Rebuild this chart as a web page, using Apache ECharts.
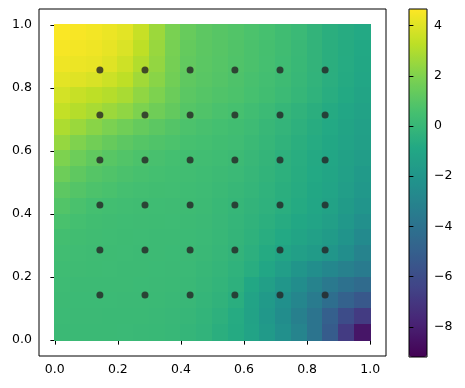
<!DOCTYPE html>
<html>
<head>
<meta charset="utf-8">
<script src="https://cdn.jsdelivr.net/npm/echarts@6/dist/echarts.min.js"></script>
<style>
  html, body { margin: 0; padding: 0; background: #fff; }
  #chart { width: 465px; height: 388px; }
</style>
</head>
<body>
<div id="chart"></div>
<script>
// cell centres of the interpolated field (x left->right, y top->bottom)
const xCenters = [0.025, 0.075, 0.125, 0.175, 0.225, 0.275, 0.325, 0.375, 0.425, 0.475,
                  0.525, 0.575, 0.625, 0.675, 0.725, 0.775, 0.825, 0.875, 0.925, 0.975];
const yCenters = [0.975, 0.925, 0.875, 0.825, 0.775, 0.725, 0.675, 0.625, 0.575, 0.525,
                  0.475, 0.425, 0.375, 0.325, 0.275, 0.225, 0.175, 0.125, 0.075, 0.025];

// field values, one row per yCenters entry
const fieldRows = [
  [4.6, 4.55, 4.45, 4.3, 4.1, 3.5, 2.6, 1.85, 1.4, 1.15, 1.0, 0.85, 0.7, 0.55, 0.35, 0.12, -0.2, -0.5, -0.7, -0.85],
  [4.5, 4.45, 4.35, 4.18, 3.9, 3.3, 2.5, 1.8, 1.33, 1.12, 0.98, 0.84, 0.69, 0.54, 0.33, 0.1, -0.2, -0.5, -0.71, -0.88],
  [4.35, 4.3, 4.22, 4.0, 3.65, 3.05, 2.4, 1.75, 1.27, 1.08, 0.96, 0.82, 0.67, 0.52, 0.31, 0.07, -0.21, -0.5, -0.72, -0.92],
  [4.1, 4.0, 3.85, 3.6, 3.3, 2.7, 2.2, 1.65, 1.2, 1.03, 0.9, 0.77, 0.6, 0.46, 0.26, 0.02, -0.24, -0.53, -0.77, -1.0],
  [3.75, 3.5, 3.3, 3.1, 2.85, 2.35, 1.95, 1.5, 1.1, 0.93, 0.8, 0.72, 0.55, 0.4, 0.18, -0.05, -0.3, -0.58, -0.83, -1.1],
  [3.4, 3.1, 2.85, 2.6, 2.35, 1.95, 1.6, 1.3, 0.95, 0.8, 0.65, 0.55, 0.38, 0.18, -0.05, -0.28, -0.5, -0.75, -1.0, -1.25],
  [2.95, 2.55, 2.2, 1.9, 1.62, 1.35, 1.12, 0.9, 0.7, 0.6, 0.5, 0.4, 0.25, 0.03, -0.17, -0.4, -0.62, -0.85, -1.1, -1.35],
  [2.45, 2.0, 1.65, 1.38, 1.15, 0.95, 0.82, 0.7, 0.56, 0.49, 0.4, 0.32, 0.14, -0.07, -0.27, -0.5, -0.72, -0.92, -1.2, -1.45],
  [1.95, 1.55, 1.25, 1.02, 0.85, 0.72, 0.6, 0.5, 0.42, 0.36, 0.3, 0.2, 0.04, -0.15, -0.38, -0.58, -0.8, -1.0, -1.3, -1.55],
  [1.55, 1.2, 0.95, 0.8, 0.68, 0.58, 0.5, 0.42, 0.36, 0.3, 0.22, 0.12, -0.04, -0.22, -0.43, -0.63, -0.85, -1.05, -1.38, -1.7],
  [1.15, 0.92, 0.74, 0.62, 0.52, 0.45, 0.4, 0.36, 0.31, 0.25, 0.14, 0.03, -0.12, -0.3, -0.5, -0.7, -0.92, -1.15, -1.5, -1.85],
  [0.85, 0.65, 0.5, 0.42, 0.37, 0.33, 0.31, 0.29, 0.27, 0.2, 0.07, -0.06, -0.2, -0.37, -0.55, -0.78, -1.0, -1.25, -1.65, -2.05],
  [0.62, 0.5, 0.4, 0.34, 0.31, 0.29, 0.27, 0.25, 0.23, 0.16, 0.04, -0.1, -0.27, -0.47, -0.68, -0.92, -1.15, -1.4, -1.85, -2.35],
  [0.47, 0.4, 0.33, 0.3, 0.27, 0.25, 0.23, 0.21, 0.19, 0.12, 0.0, -0.15, -0.35, -0.6, -0.85, -1.1, -1.35, -1.65, -2.1, -2.65],
  [0.36, 0.32, 0.28, 0.26, 0.24, 0.22, 0.2, 0.18, 0.16, 0.08, -0.04, -0.2, -0.45, -0.77, -1.1, -1.4, -1.65, -1.95, -2.45, -3.05],
  [0.3, 0.28, 0.26, 0.24, 0.22, 0.21, 0.19, 0.16, 0.12, 0.02, -0.1, -0.3, -0.6, -1.02, -1.5, -2.0, -2.45, -2.8, -3.15, -3.5],
  [0.24, 0.23, 0.22, 0.21, 0.2, 0.19, 0.17, 0.13, 0.08, -0.03, -0.18, -0.4, -0.92, -1.42, -1.95, -2.5, -3.05, -3.6, -4.05, -4.4],
  [0.2, 0.19, 0.18, 0.18, 0.17, 0.16, 0.14, 0.1, 0.04, -0.09, -0.28, -0.55, -1.17, -1.72, -2.3, -2.9, -3.5, -4.2, -4.9, -5.4],
  [0.18, 0.17, 0.16, 0.15, 0.14, 0.13, 0.1, 0.05, -0.03, -0.18, -0.4, -0.72, -1.27, -1.87, -2.5, -3.2, -3.9, -5.0, -6.0, -6.8],
  [0.15, 0.15, 0.14, 0.13, 0.12, 0.1, 0.06, 0.0, -0.09, -0.25, -0.5, -0.78, -1.17, -1.72, -2.35, -3.0, -3.9, -5.2, -6.8, -8.4]
];

// sample locations (black dots)
const dotPos = [0.143, 0.286, 0.429, 0.571, 0.714, 0.857];

const axisTicks = [0.0, 0.2, 0.4, 0.6, 0.8, 1.0];
const cbarTicks = [-8, -6, -4, -2, 0, 2, 4];
const cbarMin = -9.2;
const cbarMax = 4.66;

const viridis = ['#440154', '#482475', '#414487', '#355f8d', '#2a788e', '#21918c',
                 '#22a884', '#44bf70', '#7ad151', '#bddf26', '#fde725'];

const cellData = fieldRows.flatMap((row, r) => row.map((v, c) => [xCenters[c], yCenters[r], v]));
const dotData = dotPos.flatMap(y => dotPos.map(x => [x, y]));
const half = (xCenters[1] - xCenters[0]) / 2;

const labelStyle = { color: '#000', fontSize: 12.5, fontFamily: 'DejaVu Sans' };
const minus = v => String(v).replace('-', '\u2212');

const chart = echarts.init(document.getElementById('chart'), null, { renderer: 'canvas' });
chart.setOption({
  animation: false,
  backgroundColor: '#fff',
  grid: [
    { left: 39, top: 9, width: 347, height: 347, show: true, borderColor: '#000', borderWidth: 1, z: 5 },
    { left: 409, top: 9, width: 18, height: 348, show: true, borderColor: '#000', borderWidth: 1, z: 6 }
  ],
  xAxis: [
    {
      type: 'value', gridIndex: 0, min: -0.05, max: 1.05,
      axisLine: { show: false }, splitLine: { show: false },
      axisTick: { show: true, length: 4.4, lineStyle: { color: '#000', width: 1 }, customValues: axisTicks },
      axisLabel: { ...labelStyle, margin: 7, customValues: axisTicks, formatter: v => v.toFixed(1) }
    },
    { type: 'value', gridIndex: 1, min: 0, max: 1, show: false }
  ],
  yAxis: [
    {
      type: 'value', gridIndex: 0, min: -0.05, max: 1.05,
      axisLine: { show: false }, splitLine: { show: false },
      axisTick: { show: true, length: 4.4, lineStyle: { color: '#000', width: 1 }, customValues: axisTicks },
      axisLabel: { ...labelStyle, margin: 7, customValues: axisTicks, formatter: v => v.toFixed(1) }
    },
    {
      type: 'value', gridIndex: 1, position: 'right', min: cbarMin, max: cbarMax, z: 7,
      axisLine: { show: false }, splitLine: { show: false },
      axisTick: { show: true, length: 4.4, lineStyle: { color: '#000', width: 1 }, customValues: cbarTicks },
      axisLabel: { ...labelStyle, margin: 7, customValues: cbarTicks, formatter: minus }
    }
  ],
  visualMap: {
    type: 'continuous',
    seriesIndex: 0,
    dimension: 2,
    min: cbarMin,
    max: cbarMax,
    calculable: false,
    hoverLink: false,
    orient: 'vertical',
    left: 409,
    top: 9,
    padding: 0,
    itemWidth: 18,
    itemHeight: 348,
    text: null,
    z: 1,
    inRange: { color: viridis }
  },
  series: [
    {
      type: 'custom',
      xAxisIndex: 0,
      yAxisIndex: 0,
      encode: { x: 0, y: 1 },
      data: cellData,
      renderItem: (params, api) => {
        const x = api.value(0);
        const y = api.value(1);
        const a = api.coord([x - half, y + half]);
        const b = api.coord([x + half, y - half]);
        const x0 = Math.floor(a[0]);
        const y0 = Math.floor(a[1]);
        return {
          type: 'rect',
          shape: { x: x0, y: y0, width: Math.ceil(b[0]) - x0, height: Math.ceil(b[1]) - y0 },
          style: { fill: api.visual('color') }
        };
      }
    },
    {
      type: 'scatter',
      xAxisIndex: 0,
      yAxisIndex: 0,
      data: dotData,
      symbolSize: 7,
      itemStyle: { color: '#262626' },
      z: 3
    }
  ]
});
</script>
</body>
</html>
